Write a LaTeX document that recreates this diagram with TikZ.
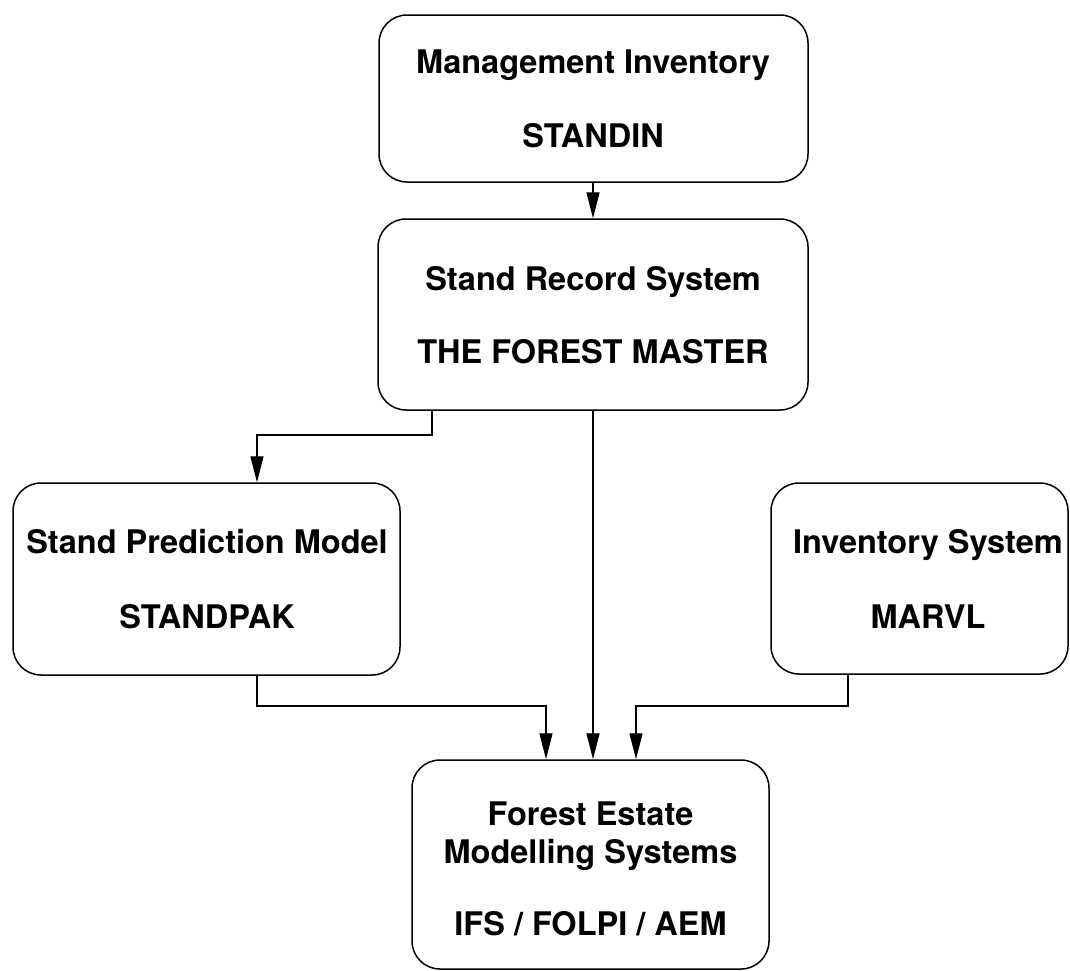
\documentclass[tikz,border=0pt]{standalone}
\usepackage{fontspec}
\setmainfont{TeX Gyre Heros}
\usetikzlibrary{arrows.meta}
\begin{document}
\begin{tikzpicture}[x=1pt,y=-1pt,
  box/.style={draw=black, line width=1.5pt, rounded corners=28pt, inner sep=0pt},
  lbl/.style={anchor=base, inner sep=0pt, font=\fontsize{32.5}{37}\selectfont\bfseries},
  arr/.style={draw=black, line width=1.3pt, -{Triangle[length=26pt,width=13pt]}},
  con/.style={draw=black, line width=1.3pt}]
\useasboundingbox (0,0) rectangle (1070,970);
% boxes
\node[box, minimum width=429pt, minimum height=167pt] (mi) at (593.5,98.5) {};
\node[box, minimum width=430pt, minimum height=191pt] (sr) at (593,314.5) {};
\node[box, minimum width=387pt, minimum height=192pt] (sp) at (206.5,579) {};
\node[box, minimum width=297pt, minimum height=191pt] (mv) at (919.5,578.5) {};
\node[box, minimum width=357pt, minimum height=209pt] (fe) at (590.5,864.5) {};
% labels
\node[lbl] (mi1) at (593,73) {Management Inventory};
\node[lbl] (mi2) at (593,147) {STANDIN};
\node[lbl] (sr1) at (593,290) {Stand Record System};
\node[lbl] (sr2) at (593,363) {THE FOREST MASTER};
\node[lbl] (sp1) at (207,553) {Stand Prediction Model};
\node[lbl] (sp2) at (207,628) {STANDPAK};
\node[lbl] (mv1) at (928,553) {Inventory System};
\node[lbl] (mv2) at (928,628) {MARVL};
\node[lbl] (fe1) at (590.5,825) {Forest Estate};
\node[lbl] (fe2) at (590.5,863) {Modelling Systems};
\node[lbl] (fe3) at (590.5,935) {IFS / FOLPI / AEM};
% junction coordinates
\coordinate (j1) at (432,435);
\coordinate (j2) at (257,435);
\coordinate (j3) at (257,706);
\coordinate (j4) at (546,706);
\coordinate (j5) at (848,706);
\coordinate (j6) at (636,706);
\coordinate (jc) at (593,0);
% connectors
\draw[arr] (mi.south -| jc) -- (sr.north -| jc);
\draw[arr] (sr.south -| j1) -- (j1) -- (j2) -- (sp.north -| j2);
\draw[arr] (sr.south -| jc) -- (fe.north -| jc);
\draw[arr] (sp.south -| j3) -- (j3) -- (j4) -- (fe.north -| j4);
\draw[arr] (mv.south -| j5) -- (j5) -- (j6) -- (fe.north -| j6);
\end{tikzpicture}
\end{document}
